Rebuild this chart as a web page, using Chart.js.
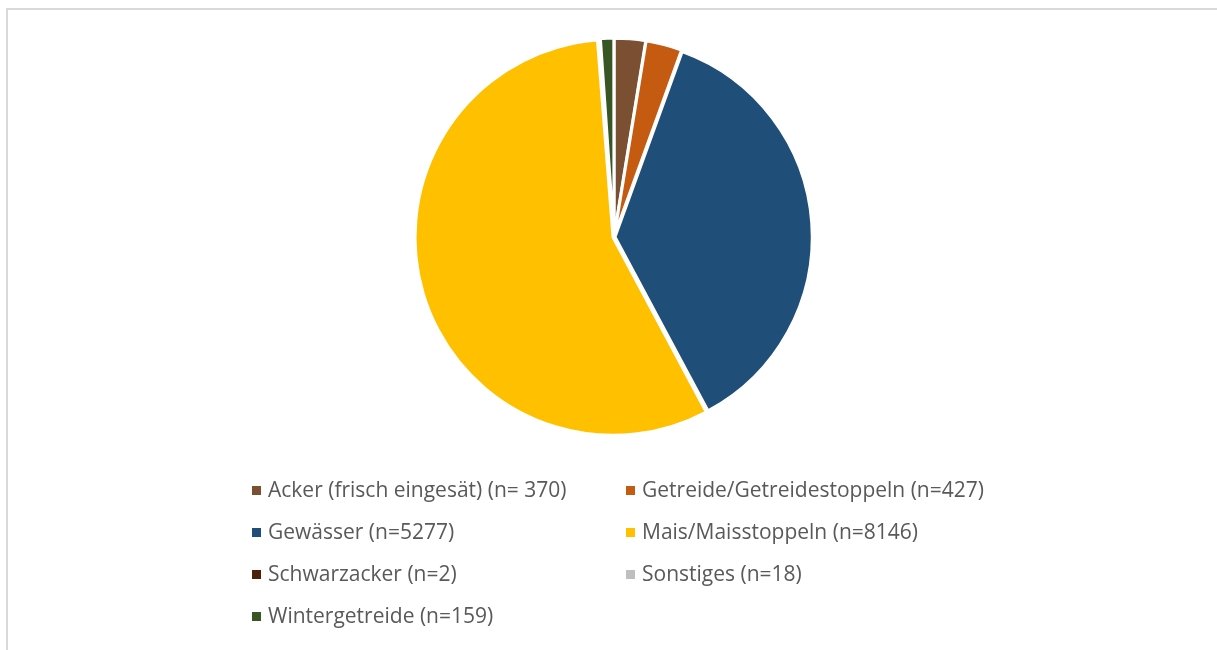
<!DOCTYPE html>
<html>
<head>
<meta charset="utf-8">
<script src="https://cdn.jsdelivr.net/npm/chart.js@4"></script>
<style>
  html, body { margin: 0; padding: 0; background: #fff; width: 1217px; height: 650px; overflow: hidden; }
  #frame { position: absolute; left: 6px; top: 8px; width: 1300px; height: 700px; border-left: 2px solid #d9d9d9; border-top: 2px solid #d9d9d9; }
  #wrap { position: absolute; left: 0; top: 0; width: 1217px; height: 650px; }
  .item { position: absolute; font-family: "Open Sans", Lato, sans-serif; font-size: 21px; color: #595959; white-space: nowrap; line-height: 24px; }
  .item i { display: inline-block; width: 9px; height: 9px; margin-right: 7px; vertical-align: 2px; }
</style>
</head>
<body>
<div id="frame"></div>
<div id="wrap"><canvas id="myChart" width="1217" height="650"></canvas></div>
<div id="legend"></div>
<script>
const labels = ['Acker (frisch eingesät) (n= 370)', 'Getreide/Getreidestoppeln (n=427)', 'Gewässer (n=5277)',
  'Mais/Maisstoppeln (n=8146)', 'Schwarzacker (n=2)', 'Sonstiges (n=18)', 'Wintergetreide (n=159)'];
const counts = [370, 427, 5277, 8146, 2, 18, 159];
const colors = ['#7b4f32', '#c55a11', '#1f4e79', '#ffc000', '#4b1f0a', '#bfbfbf', '#375623'];

const ctx = document.getElementById('myChart');

new Chart(ctx, {
  type: 'pie',
  data: {
    labels: labels,
    datasets: [{
      data: counts,
      backgroundColor: colors,
      borderColor: '#ffffff',
      borderWidth: 3,
      offset: 4,
      radius: 197
    }]
  },
  options: {
    responsive: false,
    animation: false,
    devicePixelRatio: 1,
    layout: { padding: { left: 11, right: 0, top: 30, bottom: 206 } },
    plugins: {
      legend: { display: false },
      tooltip: { enabled: false }
    }
  }
});

// legend in two columns like the original
const legend = document.getElementById('legend');
const colX = [252, 626];
const rowY = [477, 519, 561, 603];
labels.forEach((lab, i) => {
  const d = document.createElement('div');
  d.className = 'item';
  d.style.left = colX[i % 2] + 'px';
  d.style.top = rowY[Math.floor(i / 2)] + 'px';
  d.innerHTML = '<i style="background:' + colors[i] + '"></i>' + lab;
  legend.appendChild(d);
});
</script>
</body>
</html>
